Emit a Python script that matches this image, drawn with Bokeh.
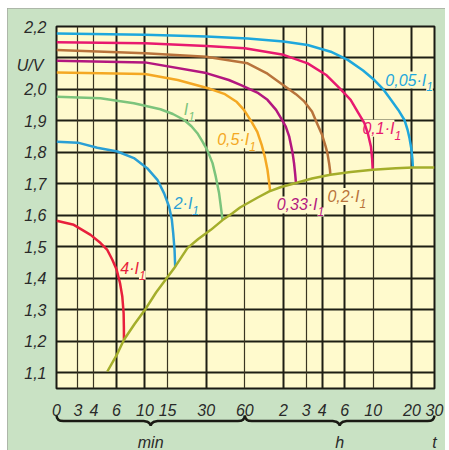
import math
from bokeh.plotting import figure
from bokeh.models import Range1d, FixedTicker, Grid
from bokeh.core.properties import value
from bokeh.embed import file_html
from bokeh.resources import INLINE

# ---------------- data ----------------
# time axis in minutes (log scale); the "0" tick sits at the left edge
x_ticks = [2.046, 3, 4, 6, 10, 15, 30, 60, 120, 180, 240, 360, 600, 1200, 1800]
x_labels = ["0", "3", "4", "6", "10", "15", "30", "60", "2", "3", "4", "6", "10", "20", "30"]
x_grid_thick = [6, 10, 30, 120, 240, 360, 1200]
x_grid_thin = [3, 4, 15, 60, 180, 600]
y_ticks = [1.1, 1.2, 1.3, 1.4, 1.5, 1.6, 1.7, 1.8, 1.9, 2.0, 2.1, 2.2]
y_labels = ["1,1", "1,2", "1,3", "1,4", "1,5", "1,6", "1,7", "1,8", "1,9", "2,0", "", "2,2"]

t_005 = [2.05, 10, 30, 63, 120, 185, 280, 380, 500, 612, 720, 824, 940, 1050, 1110, 1150, 1190, 1210, 1222]
u_005 = [2.178, 2.174, 2.168, 2.162, 2.152, 2.141, 2.12, 2.094, 2.06, 2.03, 2.0, 1.967, 1.935, 1.903, 1.872, 1.845, 1.81, 1.78, 1.752]
t_01 = [2.05, 10, 30, 60, 120, 185, 260, 335, 400, 460, 512, 545, 576, 588, 594]
u_01 = [2.150, 2.147, 2.138, 2.131, 2.110, 2.083, 2.045, 2.000, 1.967, 1.925, 1.893, 1.860, 1.818, 1.78, 1.745]
t_02 = [2.05, 10, 30, 63, 90, 114, 150, 174, 200, 220, 240, 255, 264, 272, 276, 278]
u_02 = [2.125, 2.115, 2.104, 2.083, 2.05, 2.02, 1.985, 1.962, 1.93, 1.89, 1.855, 1.82, 1.797, 1.765, 1.745, 1.73]
t_033 = [2.05, 10, 30, 45, 56, 75, 90, 105, 118, 125, 133, 141, 145, 148, 150]
u_033 = [2.091, 2.086, 2.052, 2.03, 2.014, 1.99, 1.967, 1.935, 1.90, 1.882, 1.85, 1.80, 1.765, 1.73, 1.703]
t_05 = [2.05, 10, 18, 32, 42, 52, 59, 67, 75, 81, 86, 90, 93, 94.5]
u_05 = [2.054, 2.049, 2.03, 2.002, 1.985, 1.96, 1.935, 1.90, 1.865, 1.825, 1.785, 1.745, 1.70, 1.676]
t_1 = [2.05, 4.5, 8.2, 13.2, 16.5, 20.2, 23, 25.6, 28, 30.5, 33.6, 35.6, 37.8, 39, 40.2]
u_1 = [1.977, 1.972, 1.956, 1.937, 1.922, 1.903, 1.883, 1.861, 1.835, 1.808, 1.766, 1.723, 1.670, 1.628, 1.585]
t_2 = [2.05, 3, 4.25, 6.1, 8.2, 10.4, 12.5, 14.1, 15.4, 16.2, 16.6, 17.0, 17.2]
u_2 = [1.834, 1.831, 1.815, 1.803, 1.782, 1.750, 1.713, 1.670, 1.628, 1.586, 1.543, 1.49, 1.437]
t_4 = [2.05, 2.79, 3.77, 4.51, 5.09, 5.57, 6.02, 6.39, 6.66, 6.82, 6.85, 6.86]
u_4 = [1.583, 1.570, 1.538, 1.512, 1.490, 1.459, 1.427, 1.385, 1.342, 1.289, 1.247, 1.205]
t_end = [5.09, 6, 6.86, 8.3, 10, 12.2, 15, 17.2, 21.4, 26, 32.6, 40.2, 48, 55, 75, 93, 115, 150, 200, 278, 400, 594, 900, 1222, 1800]
u_end = [1.104, 1.155, 1.205, 1.255, 1.30, 1.355, 1.404, 1.437, 1.496, 1.525, 1.554, 1.585, 1.607, 1.625, 1.656, 1.676, 1.69, 1.703, 1.717, 1.729, 1.738, 1.745, 1.75, 1.752, 1.752]

series_labels = ["0,05·I", "0,1·I", "0,2·I", "0,33·I", "0,5·I", "I", "2·I", "4·I"]
series_colors = ["#1ea7dc", "#e8196f", "#b8733b", "#b3177f", "#f4a823", "#7cc47c", "#2a9fd5", "#e81f3c"]
label_t = [1551, 877, 468, 221, 64.8, 21.7, 23.4, 8.98]
label_u = [2.030, 1.877, 1.660, 1.633, 1.840, 1.935, 1.639, 1.432]

curves_t = [t_005, t_01, t_02, t_033, t_05, t_1, t_2, t_4]
curves_u = [u_005, u_01, u_02, u_033, u_05, u_1, u_2, u_4]

# ---------------- figure ----------------
BG = "#fffacd"
BORDER = "#c9e2c4"
INK = "#2a2a2a"
FONT = "Liberation Sans"

p = figure(width=438, height=442, x_axis_type="log",
           x_range=Range1d(x_ticks[0], x_ticks[-1]), y_range=Range1d(1.05, 2.2),
           output_backend="svg", toolbar_location=None, tools="",
           min_border_left=49, min_border_right=11, min_border_top=18, min_border_bottom=62,
           background_fill_color=BG, border_fill_color=BORDER,
           outline_line_color="#1a1a14", outline_line_width=2)
p.margin = (8, 0, 0, 7)
p.styles = {"outline": "1px solid #a3a8a0", "outline-offset": "-1px"}

for ax in (p.xaxis[0], p.yaxis[0]):
    ax.axis_line_color = None
    ax.major_tick_line_color = None
    ax.minor_tick_line_color = None
    ax.major_label_text_font = FONT
    ax.major_label_text_font_style = "italic"
    ax.major_label_text_font_size = "16px"
    ax.major_label_text_color = INK

p.xaxis.ticker = FixedTicker(ticks=x_ticks)
p.xaxis.major_label_overrides = {float(t): s for t, s in zip(x_ticks, x_labels)}
p.xaxis.major_label_standoff = 9
p.yaxis.ticker = FixedTicker(ticks=y_ticks)
p.yaxis.major_label_overrides = {float(t): s for t, s in zip(y_ticks, y_labels)}
p.yaxis.major_label_standoff = 4

p.xgrid.grid_line_color = None
p.ygrid.ticker = FixedTicker(ticks=y_ticks)
p.ygrid.grid_line_color = "#1e1e14"
p.ygrid.grid_line_width = 2
p.add_layout(Grid(dimension=0, ticker=FixedTicker(ticks=x_grid_thick),
                  grid_line_color="#1e1e14", grid_line_width=2))
p.add_layout(Grid(dimension=0, ticker=FixedTicker(ticks=x_grid_thin),
                  grid_line_color="#3a3522", grid_line_width=1.2))

# curve labels (drawn first so that the curves pass over their backgrounds)
for lab, col, lt, lu in zip(series_labels, series_colors, label_t, label_u):
    p.text(x=[lt], y=[lu], text=[lab], text_align="right", text_baseline="alphabetic",
           text_font=value(FONT), text_font_style="italic", text_font_size="16px",
           text_color=col, background_fill_color=BG)
    p.text(x=[lt], y=[lu - 0.022], text=["1"], text_align="left", text_baseline="alphabetic",
           text_font=value(FONT), text_font_style="italic", text_font_size="12px",
           text_color=col, background_fill_color=BG)

# discharge curves
for ts, us, col in zip(curves_t, curves_u, series_colors):
    p.line(ts, us, line_color=col, line_width=2.5, line_join="round")
p.line(t_end, u_end, line_color="#a4ae2b", line_width=2.5, line_join="round")

# y unit label at the 2,1 position
p.text(x=[1.62], y=[2.075], text=["U/V"], text_align="right", text_baseline="alphabetic",
       text_font=value(FONT), text_font_style="italic", text_font_size="16px",
       text_color=INK, level="overlay")

# braces below the x axis
KX = 1 / 55.65          # ln-units per pixel on x
KY = 0.1 / 31.5         # volts per pixel on y
Y0 = 1.05

def brace(t0, t1):
    L0, L1 = math.log(t0), math.log(t1)
    w = (L1 - L0) / KX
    m = w / 2
    pts = [(0, 27), (0.6, 29.6), (2, 31.4), (4, 32.3), (7, 32.6),
           (m - 7, 32.6), (m - 3.5, 33.2), (m - 1.3, 34.6), (m, 37),
           (m + 1.3, 34.6), (m + 3.5, 33.2), (m + 7, 32.6),
           (w - 7, 32.6), (w - 4, 32.3), (w - 2, 31.4), (w - 0.6, 29.6), (w, 27)]
    xs = [math.exp(L0 + dx * KX) for dx, dy in pts]
    ys = [Y0 - dy * KY for dx, dy in pts]
    return xs, ys

for a, b in [(x_ticks[0], 60), (60, x_ticks[-1])]:
    bx, by = brace(a, b)
    p.line(bx, by, line_color="#1a1a14", line_width=2.5, level="overlay")

unit_t = [math.sqrt(x_ticks[0] * 60), math.sqrt(60 * x_ticks[-1]), x_ticks[-1]]
unit_text = ["min", "h", "t"]
p.text(x=unit_t, y=[Y0 - 54 * KY] * 3, text=unit_text, text_align="center",
       text_baseline="alphabetic", text_font=value(FONT), text_font_style="italic",
       text_font_size="16px", text_color=INK, level="overlay")

open("out.html", "w").write(file_html(p, INLINE))
